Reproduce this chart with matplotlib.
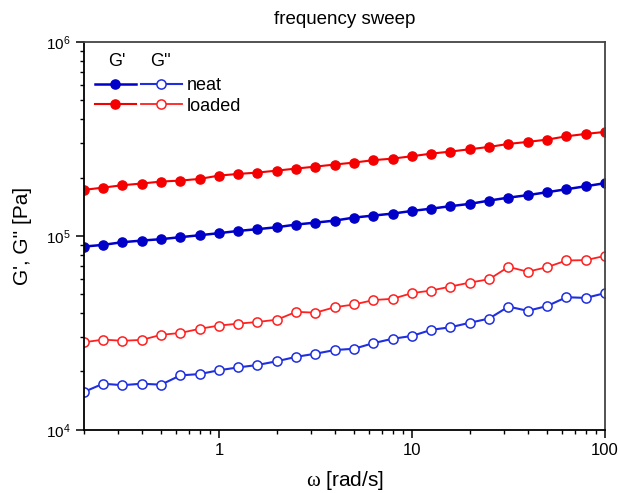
#!/usr/bin/env python3
"""Frequency sweep: storage and loss moduli, neat vs loaded."""

import matplotlib

matplotlib.use("Agg")
import matplotlib.pyplot as plt
from matplotlib.ticker import LogLocator, NullFormatter, FixedLocator, FixedFormatter

omega = [0.2, 0.251, 0.316, 0.398, 0.501, 0.631, 0.794, 1.0, 1.26, 1.58, 2.0, 2.51, 3.16, 3.98,
         5.01, 6.31, 7.94, 10.0, 12.6, 15.8, 20.0, 25.1, 31.6, 39.8, 50.1, 63.1, 79.4, 100.0]

g1_neat = [88100, 89900, 92800, 94600, 96200, 98500, 100800, 103300, 106100, 108300, 110900,
           114400, 117100, 119900, 124300, 127300, 130300, 134500, 138200, 142300, 146300,
           152100, 157500, 162200, 168000, 174000, 180300, 187000]
g2_neat = [15700, 17300, 17000, 17300, 17100, 19100, 19400, 20300, 21000, 21600, 22600, 23800,
           24700, 25800, 26200, 28000, 29500, 30500, 32800, 33800, 35700, 37500, 43200, 41100,
           43500, 48300, 47900, 50700]
g1_loaded = [172700, 177400, 182500, 186200, 190600, 192800, 196700, 204600, 208700, 212000,
             217100, 222400, 227600, 233300, 238800, 245700, 250300, 257500, 265600, 272000,
             279900, 287500, 298000, 305200, 313600, 326200, 335500, 343700]
g2_loaded = [28300, 29200, 28800, 29100, 30900, 31600, 33200, 34500, 35300, 36000, 37000, 40600,
             40200, 42900, 44300, 46700, 47400, 50700, 52300, 54800, 57500, 59800, 69200, 65400,
             69000, 74700, 75000, 78900]

x_ticks = [1, 10, 100]
x_tick_labels = ["1", "10", "100"]
series_labels = ["neat", "loaded"]

plt.rcParams.update({
    "font.family": ["Liberation Sans", "DejaVu Sans"],
    "mathtext.fontset": "custom",
    "mathtext.rm": "Liberation Sans",
    "mathtext.it": "Liberation Serif",
    "axes.linewidth": 1.3,
})

fig = plt.figure(figsize=(6.18, 4.93), dpi=100)
ax = fig.add_axes([0.136, 0.128, 0.843, 0.787])

blue = "#0000c8"
blue_o = "#1f2fe0"
red = "#f50000"
red_o = "#ff2020"
ms = 6.6

h_neat_f, = ax.plot(omega, g1_neat, "-o", color=blue, lw=1.8, ms=ms, mec=blue, mfc=blue)
h_load_f, = ax.plot(omega, g1_loaded, "-o", color=red, lw=1.5, ms=ms, mec=red, mfc=red)
h_neat_o, = ax.plot(omega, g2_neat, "-o", color=blue_o, lw=1.5, ms=ms, mec=blue_o, mfc="white", mew=1.1)
h_load_o, = ax.plot(omega, g2_loaded, "-o", color=red_o, lw=1.3, ms=ms, mec=red_o, mfc="white", mew=1.1)

ax.set_xscale("log")
ax.set_yscale("log")
ax.set_xlim(0.2, 100)
ax.set_ylim(1e4, 1e6)

ax.xaxis.set_major_locator(FixedLocator(x_ticks))
ax.xaxis.set_major_formatter(FixedFormatter(x_tick_labels))
ax.xaxis.set_minor_locator(LogLocator(base=10, subs=range(2, 10)))
ax.xaxis.set_minor_formatter(NullFormatter())
ax.yaxis.set_major_locator(LogLocator(base=10, numticks=5))
ax.yaxis.set_minor_locator(LogLocator(base=10, subs=range(2, 10), numticks=20))
ax.yaxis.set_minor_formatter(NullFormatter())

ax.tick_params(which="major", direction="out", length=6, width=1.1, labelsize=12, colors="black")
ax.tick_params(which="minor", direction="out", length=3, width=1.0)
ax.tick_params(axis="y", which="major", labelsize=11)
for side in ("top", "right"):
    ax.spines[side].set_color("#444444")

ax.set_title("frequency sweep", fontsize=13.5, pad=13)
ax.set_xlabel(r"$\omega$ [rad/s]", fontsize=15, labelpad=8)
ax.set_ylabel("G', G'' [Pa]", fontsize=15, labelpad=10)

leg = ax.legend([h_neat_f, h_load_f, h_neat_o, h_load_o], ["", ""] + series_labels,
                ncol=2, loc="upper left", bbox_to_anchor=(0.0, 0.937), frameon=False,
                fontsize=13, handlelength=2.25, handletextpad=0.3, columnspacing=0.0,
                labelspacing=0.2, borderaxespad=0.2)
ax.text(0.062, 0.95, "G'", transform=ax.transAxes, fontsize=13, ha="center", va="center")
ax.text(0.146, 0.95, "G''", transform=ax.transAxes, fontsize=13, ha="center", va="center")

fig.savefig("out.png", dpi=100)
